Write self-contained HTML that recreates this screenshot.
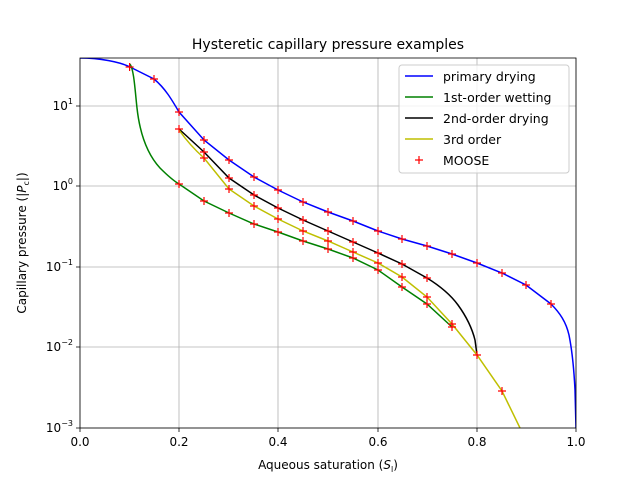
<!DOCTYPE html>
<html><head><style>body{margin:0;background:#fff}svg{display:block}text{font-family:"DejaVu Sans","Liberation Sans",sans-serif;fill:#000}</style></head><body>
<svg width="640" height="480" xmlns="http://www.w3.org/2000/svg">
<rect width="640" height="480" fill="#fff"/>
<g stroke="#b0b0b0" stroke-width="0.8">
<line x1="80" y1="58" x2="80" y2="428"/><line x1="179" y1="58" x2="179" y2="428"/><line x1="278" y1="58" x2="278" y2="428"/><line x1="378" y1="58" x2="378" y2="428"/><line x1="477" y1="58" x2="477" y2="428"/><line x1="576" y1="58" x2="576" y2="428"/>
<line x1="80" y1="106" x2="576" y2="106"/><line x1="80" y1="186" x2="576" y2="186"/><line x1="80" y1="267" x2="576" y2="267"/><line x1="80" y1="347" x2="576" y2="347"/><line x1="80" y1="428" x2="576" y2="428"/>
</g>
<defs><clipPath id="c"><rect x="80" y="58" width="496" height="370"/></clipPath></defs>
<g clip-path="url(#c)" fill="none" stroke-width="1.5">
<path stroke="#0000ff" d="M80,58 C100,58 120,62 130,67 L154,79 C165,88 172,100 179,112 L204,140 L229,160 L254,177 L278,190 L303,202 L328,212 L353,221 L378,231 L402,239 L427,246 L452,254 L477,263 L502,273 L526,285 L551,304 C560,313 566,322 569,335 C572,350 574,370 575,390 L576,428"/>
<path stroke="#008000" d="M130,64 C134,70 135,90 137,108 C140,135 148,155 160,168 C168,176 174,181 179,184 L204,201 L229,213 L254,224 L278,232 L303,241 L328,249 L353,258 L378,270 L402,287 L427,304 L452,327"/>
<path stroke="#000000" d="M179,129 L204,152 L229,178 L254,195 L278,208 L303,220 L328,231 L353,242 L378,253 L402,264 L427,278 C440,286 450,294 458,305 C466,316 472,328 475,340 L477,355"/>
<path stroke="#bfbf00" d="M179,130 C186,140 195,150 204,158 L229,189 L254,206 L278,219 L303,231 L328,241 L353,252 L378,263 L402,277 L427,297 L452,324 L477,355 L502,391 L520,428"/>
</g>
<g stroke="#ff0000" stroke-width="1.2" fill="none" id="m">
<path d="M129.6,67m-4,0h8m-4,-4v8 M154,79m-4,0h8m-4,-4v8 M179,112m-4,0h8m-4,-4v8 M204,140m-4,0h8m-4,-4v8 M229,160m-4,0h8m-4,-4v8 M254,177m-4,0h8m-4,-4v8 M278,190m-4,0h8m-4,-4v8 M303,202m-4,0h8m-4,-4v8 M328,212m-4,0h8m-4,-4v8 M353,221m-4,0h8m-4,-4v8 M378,231m-4,0h8m-4,-4v8 M402,239m-4,0h8m-4,-4v8 M427,246m-4,0h8m-4,-4v8 M452,254m-4,0h8m-4,-4v8 M477,263m-4,0h8m-4,-4v8 M502,273m-4,0h8m-4,-4v8 M526,285m-4,0h8m-4,-4v8 M551,304m-4,0h8m-4,-4v8"/>
<path d="M179,184m-4,0h8m-4,-4v8 M204,201m-4,0h8m-4,-4v8 M229,213m-4,0h8m-4,-4v8 M254,224m-4,0h8m-4,-4v8 M278,232m-4,0h8m-4,-4v8 M303,241m-4,0h8m-4,-4v8 M328,249m-4,0h8m-4,-4v8 M353,258m-4,0h8m-4,-4v8 M378,270m-4,0h8m-4,-4v8 M402,287m-4,0h8m-4,-4v8 M427,304m-4,0h8m-4,-4v8 M452,327m-4,0h8m-4,-4v8"/>
<path d="M179,129m-4,0h8m-4,-4v8 M204,152m-4,0h8m-4,-4v8 M229,178m-4,0h8m-4,-4v8 M254,195m-4,0h8m-4,-4v8 M278,208m-4,0h8m-4,-4v8 M303,220m-4,0h8m-4,-4v8 M328,231m-4,0h8m-4,-4v8 M353,242m-4,0h8m-4,-4v8 M378,253m-4,0h8m-4,-4v8 M402,264m-4,0h8m-4,-4v8 M427,278m-4,0h8m-4,-4v8"/>
<path d="M204,158m-4,0h8m-4,-4v8 M229,189m-4,0h8m-4,-4v8 M254,206m-4,0h8m-4,-4v8 M278,219m-4,0h8m-4,-4v8 M303,231m-4,0h8m-4,-4v8 M328,241m-4,0h8m-4,-4v8 M353,252m-4,0h8m-4,-4v8 M378,263m-4,0h8m-4,-4v8 M402,277m-4,0h8m-4,-4v8 M427,297m-4,0h8m-4,-4v8 M452,324m-4,0h8m-4,-4v8 M477,355m-4,0h8m-4,-4v8 M502,391m-4,0h8m-4,-4v8"/>
</g>
<rect x="80" y="58" width="496" height="370" fill="none" stroke="#000" stroke-width="0.8"/>
<g stroke="#000" stroke-width="0.8">
<path d="M80,428v4M179,428v4M278,428v4M378,428v4M477,428v4M576,428v4"/>
<path d="M80,106h-4M80,186h-4M80,267h-4M80,347h-4M80,428h-4"/>
</g>
<g font-size="12" text-anchor="middle">
<text x="80" y="446">0.0</text><text x="179" y="446">0.2</text><text x="278" y="446">0.4</text><text x="378" y="446">0.6</text><text x="477" y="446">0.8</text><text x="576" y="446">1.0</text>
<text x="328" y="469">Aqueous saturation (<tspan font-style="italic">S</tspan><tspan font-size="8" dy="3">l</tspan><tspan dy="-3">)</tspan></text>
<text x="328" y="49" font-size="14">Hysteretic capillary pressure examples</text>
</g>
<g font-size="12" text-anchor="end">
<text x="73" y="110">10<tspan font-size="8" dy="-6">1</tspan></text>
<text x="73" y="190">10<tspan font-size="8" dy="-6">0</tspan></text>
<text x="73" y="271">10<tspan font-size="8" dy="-6">−1</tspan></text>
<text x="73" y="351">10<tspan font-size="8" dy="-6">−2</tspan></text>
<text x="73" y="432">10<tspan font-size="8" dy="-6">−3</tspan></text>
</g>
<text font-size="12" text-anchor="middle" transform="translate(26,243) rotate(-90)">Capillary pressure (|<tspan font-style="italic">P</tspan><tspan font-size="8" dy="3">c</tspan><tspan dy="-3">|)</tspan></text>
<rect x="399" y="65" width="170" height="108" rx="3" fill="#fff" fill-opacity="0.8" stroke="#ccc"/>
<g stroke-width="1.5">
<line x1="405" y1="76" x2="433" y2="76" stroke="#0000ff"/>
<line x1="405" y1="97" x2="433" y2="97" stroke="#008000"/>
<line x1="405" y1="118" x2="433" y2="118" stroke="#000"/>
<line x1="405" y1="139" x2="433" y2="139" stroke="#bfbf00"/>
<path d="M415,160h8M419,156v8" stroke="#ff0000" stroke-width="1.2"/>
</g>
<g font-size="12.5">
<text x="443" y="81">primary drying</text>
<text x="443" y="102">1st-order wetting</text>
<text x="443" y="123">2nd-order drying</text>
<text x="443" y="144">3rd order</text>
<text x="443" y="165">MOOSE</text>
</g>
</svg>
</body></html>
